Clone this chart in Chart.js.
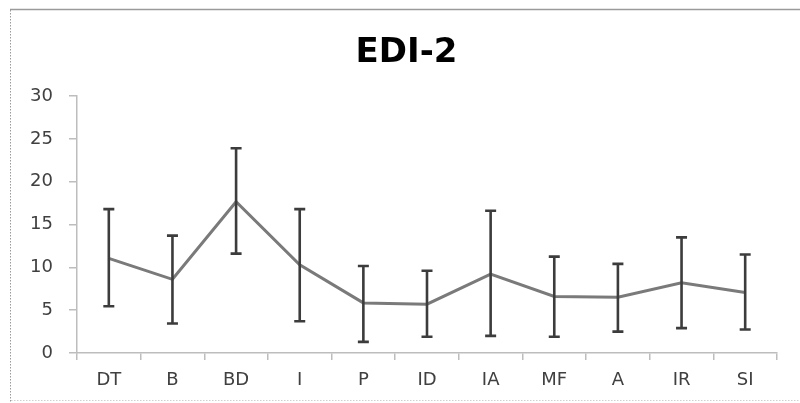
<!DOCTYPE html>
<html>
<head>
<meta charset="utf-8">
<script src="https://cdn.jsdelivr.net/npm/chart.js@4.4.0/dist/chart.umd.min.js"></script>
<style>
html,body{margin:0;padding:0;background:#fff;}
#wrap{width:800px;height:403px;position:relative;}
</style>
</head>
<body>
<div id="wrap"><canvas id="c" width="800" height="403"></canvas></div>
<script>
const chartTitle = 'EDI-2';
const categories = ['DT','B','BD','I','P','ID','IA','MF','A','IR','SI'];
const means = [11.05, 8.6, 17.65, 10.3, 5.85, 5.7, 9.2, 6.6, 6.5, 8.2, 7.05];
const upper = [16.8, 13.7, 23.9, 16.8, 10.15, 9.6, 16.6, 11.25, 10.4, 13.5, 11.5];
const lower = [5.45, 3.45, 11.6, 3.7, 1.3, 1.9, 2.0, 1.9, 2.5, 2.9, 2.75];
const yTicks = [0, 5, 10, 15, 20, 25, 30];

const framePlugin = {
  id: 'frame',
  beforeDraw(chart) {
    const ctx = chart.ctx;
    ctx.save();
    ctx.fillStyle = '#fff';
    ctx.fillRect(0, 0, chart.width, chart.height);
    ctx.strokeStyle = '#9a9a9a';
    ctx.lineWidth = 1.5;
    ctx.beginPath();
    ctx.moveTo(10, 9.5);
    ctx.lineTo(800, 9.5);
    ctx.stroke();
    ctx.setLineDash([1.5, 1.5]);
    ctx.lineWidth = 1;
    ctx.beginPath();
    ctx.moveTo(10.5, 10);
    ctx.lineTo(10.5, 403);
    ctx.stroke();
    ctx.strokeStyle = '#d0d0d0';
    ctx.beginPath();
    ctx.moveTo(11, 400.5);
    ctx.lineTo(800, 400.5);
    ctx.stroke();
    // title
    ctx.setLineDash([]);
    ctx.fillStyle = '#000';
    ctx.font = 'bold 34px "DejaVu Sans"';
    ctx.textAlign = 'center';
    ctx.textBaseline = 'alphabetic';
    ctx.fillText(chartTitle, 406.5, 62);
    ctx.restore();
  }
};

const errorBarPlugin = {
  id: 'errorBars',
  afterDatasetsDraw(chart) {
    const ctx = chart.ctx;
    const xs = chart.scales.x, ys = chart.scales.y;
    ctx.save();
    ctx.strokeStyle = '#3c3c3c';
    ctx.lineWidth = 2.6;
    ctx.lineCap = 'butt';
    for (let i = 0; i < categories.length; i++) {
      const x = xs.getPixelForValue(i);
      const yt = ys.getPixelForValue(upper[i]);
      const yb = ys.getPixelForValue(lower[i]);
      ctx.beginPath();
      ctx.moveTo(x, yt); ctx.lineTo(x, yb);
      ctx.moveTo(x - 5.5, yt); ctx.lineTo(x + 5.5, yt);
      ctx.moveTo(x - 5.5, yb); ctx.lineTo(x + 5.5, yb);
      ctx.stroke();
    }
    ctx.restore();
  }
};

new Chart(document.getElementById('c'), {
  type: 'line',
  data: {
    labels: categories,
    datasets: [{
      data: means,
      borderColor: '#7a7a7a',
      borderWidth: 3,
      pointRadius: 0,
      tension: 0,
      fill: false
    }]
  },
  options: {
    responsive: false,
    animation: false,
    devicePixelRatio: 1,
    layout: { padding: { left: 0, right: 23, top: 96, bottom: 0 } },
    plugins: {
      legend: { display: false },
      tooltip: { enabled: false },
      title: { display: false }
    },
    scales: {
      x: {
        type: 'category',
        offset: true,
        grid: { display: true, drawOnChartArea: false, offset: true, tickLength: 7, color: '#bdbdbd', lineWidth: 1.5 },
        border: { display: true, color: '#bdbdbd', width: 1.5 },
        ticks: { color: '#404040', font: { family: 'DejaVu Sans', size: 18 }, padding: 10, maxRotation: 0 },
        afterFit(s) { s.height = 50; }
      },
      y: {
        min: 0, max: 30,
        afterBuildTicks(s) { s.ticks = yTicks.map(v => ({ value: v })); },
        grid: { display: true, drawOnChartArea: false, tickLength: 8, color: '#bdbdbd', lineWidth: 1.5 },
        border: { display: true, color: '#bdbdbd', width: 1.5 },
        ticks: { color: '#404040', font: { family: 'DejaVu Sans', size: 18 }, padding: 16 },
        afterFit(s) { s.width = 77; }
      }
    }
  },
  plugins: [framePlugin, errorBarPlugin]
});
</script>
</body>
</html>
